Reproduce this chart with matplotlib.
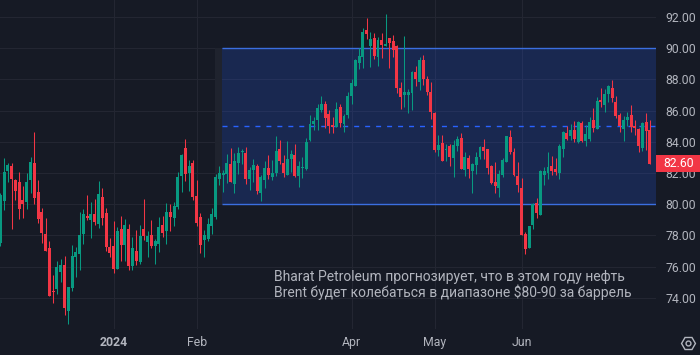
import matplotlib
matplotlib.use("Agg")
import matplotlib.pyplot as plt
import matplotlib.transforms as mtransforms
from matplotlib.patches import Rectangle
from matplotlib.lines import Line2D

plt.rcParams['font.family'] = ['Roboto', 'DejaVu Sans']
plt.rcParams['lines.scale_dashes'] = False

# Brent, daily candles, mid-Nov 2023 .. mid-Jul 2024
opens = [
    77.49, 80.22, 82.15, 82.45, 81.55, 81.42, 80.27, 80.14, 81.55, 82.64,
    80.78, 79.50, 78.09, 77.19, 74.42, 74.58, 75.67, 76.10, 73.17, 74.65,
    76.64, 76.83, 78.09, 79.24, 78.99, 79.37, 78.73, 80.46, 79.44, 77.26,
    77.32, 75.85, 78.41, 77.38, 78.41, 76.04, 77.00, 76.29, 78.41, 77.58,
    78.03, 77.32, 77.45, 78.67, 78.28, 79.50, 79.12, 79.82, 81.81, 83.60,
    82.00, 82.64, 80.53, 79.18, 77.70, 77.77, 78.60, 79.18, 81.62, 81.85,
    81.94, 82.58, 81.30, 82.64, 83.37, 83.28, 81.63, 82.19, 82.45, 80.74,
    81.57, 82.32, 81.74, 82.00, 83.54, 82.64, 81.87, 82.90, 83.15, 81.81,
    82.34, 82.26, 84.12, 85.14, 85.40, 86.04, 86.42, 85.78, 85.06, 84.97,
    86.23, 85.14, 85.72, 86.94, 87.58, 89.05, 89.44, 91.17, 90.14, 90.65,
    89.44, 90.53, 90.14, 90.65, 90.46, 90.14, 87.45, 87.00, 87.00, 87.13,
    88.47, 87.83, 89.24, 88.03, 87.19, 85.85, 83.47, 83.92, 83.50, 83.73,
    82.96, 83.73, 84.24, 82.19, 82.96, 82.13, 82.51, 83.03, 83.67, 83.54,
    82.45, 81.42, 81.04, 81.87, 82.71, 84.31, 83.35, 81.81, 81.04, 78.09,
    77.19, 78.67, 80.08, 79.31, 81.87, 82.00, 82.45, 82.26, 82.00, 83.54,
    84.56, 84.37, 84.76, 83.99, 85.20, 84.05, 84.18, 85.40, 84.82, 86.68,
    86.36, 87.06, 87.45, 86.55, 85.72, 84.82, 85.40, 85.72, 85.01, 84.82,
    83.60, 85.27, 84.76,
]
highs = [
    80.70, 82.98, 82.62, 82.62, 81.62, 82.06, 81.17, 82.02, 83.03, 84.63,
    81.55, 79.74, 79.12, 77.64, 75.46, 76.36, 76.47, 76.68, 74.69, 77.38,
    77.28, 79.50, 79.69, 80.59, 80.14, 80.33, 81.49, 81.04, 79.76, 77.83,
    78.92, 78.56, 79.24, 79.05, 78.73, 77.90, 78.35, 78.67, 80.33, 78.28,
    78.99, 77.77, 79.18, 79.24, 80.08, 80.01, 80.14, 82.06, 83.22, 84.18,
    82.83, 82.83, 81.55, 79.44, 78.35, 79.12, 79.76, 81.94, 82.45, 82.19,
    83.22, 83.60, 83.28, 83.67, 83.56, 83.67, 82.40, 82.90, 82.58, 81.87,
    82.77, 83.15, 82.83, 84.37, 84.12, 83.15, 84.05, 83.47, 83.86, 82.77,
    83.03, 84.24, 85.72, 85.59, 86.42, 86.94, 86.62, 86.04, 85.60, 86.55,
    86.42, 85.78, 87.19, 88.03, 89.31, 90.01, 91.29, 91.94, 91.04, 90.97,
    90.72, 90.97, 92.19, 90.65, 90.85, 90.21, 87.83, 90.78, 87.38, 88.54,
    88.86, 89.44, 89.56, 88.22, 87.83, 85.91, 84.44, 84.44, 83.86, 83.86,
    84.12, 84.37, 84.56, 83.35, 83.15, 82.64, 83.35, 83.73, 84.18, 83.54,
    82.51, 82.71, 82.19, 82.96, 84.37, 84.76, 83.60, 82.71, 81.68, 78.22,
    78.60, 80.08, 80.40, 82.19, 82.38, 83.35, 83.09, 82.96, 83.86, 84.69,
    85.01, 85.14, 85.33, 85.33, 85.33, 85.08, 85.59, 86.17, 86.87, 87.45,
    87.38, 87.64, 87.96, 86.94, 85.85, 85.65, 85.91, 86.36, 85.40, 84.88,
    85.27, 85.85, 85.40,
]
lows = [
    77.30, 79.65, 81.44, 78.41, 80.25, 79.03, 79.12, 79.71, 80.74, 80.03,
    78.81, 77.53, 77.02, 74.13, 73.65, 74.22, 75.03, 72.90, 72.34, 74.46,
    75.35, 75.76, 77.47, 78.99, 77.85, 78.67, 78.45, 78.67, 77.02, 76.64,
    75.61, 75.83, 76.38, 76.38, 75.78, 75.78, 76.10, 76.17, 77.70, 76.62,
    77.19, 76.17, 76.94, 77.90, 77.45, 78.28, 78.60, 79.69, 80.78, 81.49,
    80.85, 80.27, 78.60, 76.87, 76.62, 77.64, 78.09, 79.05, 81.23, 80.80,
    81.38, 81.42, 80.74, 81.96, 82.60, 81.30, 80.93, 81.44, 80.65, 80.22,
    81.06, 81.62, 81.57, 81.81, 82.58, 81.76, 81.87, 82.06, 81.74, 81.12,
    81.70, 82.19, 84.05, 84.76, 84.76, 85.91, 84.90, 84.58, 84.58, 84.97,
    84.97, 84.63, 85.53, 86.42, 87.58, 88.67, 88.73, 90.59, 88.79, 89.31,
    88.86, 89.37, 90.14, 88.73, 89.44, 87.13, 86.10, 86.23, 85.85, 86.04,
    87.58, 87.32, 87.64, 87.00, 85.46, 83.35, 83.09, 82.77, 82.77, 82.45,
    81.74, 83.41, 82.26, 81.81, 81.68, 80.72, 81.94, 82.90, 82.90, 81.94,
    81.30, 80.72, 80.46, 81.74, 82.71, 83.22, 81.81, 80.78, 78.03, 76.81,
    77.19, 78.41, 79.12, 79.31, 81.23, 81.60, 81.87, 81.87, 81.60, 83.03,
    84.12, 84.12, 83.99, 83.92, 83.99, 83.73, 84.05, 84.63, 84.82, 86.23,
    85.91, 86.55, 86.55, 85.53, 84.63, 84.05, 85.01, 84.63, 84.44, 83.35,
    83.41, 83.47, 82.58,
]
closes = [
    80.59, 82.08, 82.51, 81.62, 80.85, 79.71, 80.01, 81.42, 82.71, 80.42,
    79.07, 78.17, 77.02, 74.13, 74.37, 75.99, 76.10, 73.37, 74.69, 76.68,
    76.94, 78.03, 79.37, 79.12, 79.37, 78.86, 80.65, 79.12, 77.26, 76.87,
    75.87, 78.28, 77.38, 78.67, 76.04, 77.19, 76.36, 77.96, 77.96, 77.96,
    77.32, 77.64, 78.54, 78.15, 79.50, 79.18, 79.88, 81.74, 83.15, 81.94,
    82.45, 80.46, 78.79, 77.38, 78.03, 78.73, 79.37, 81.74, 82.00, 82.00,
    82.64, 81.42, 82.77, 83.28, 83.43, 81.63, 82.19, 82.51, 80.87, 81.76,
    82.32, 81.87, 82.00, 83.41, 82.77, 82.02, 82.90, 83.22, 81.81, 82.45,
    82.38, 83.99, 85.14, 85.33, 86.17, 86.42, 85.53, 85.01, 84.97, 86.10,
    85.22, 85.65, 86.94, 87.77, 89.24, 89.50, 91.04, 90.91, 90.59, 89.50,
    90.53, 90.21, 90.27, 90.33, 89.88, 87.45, 86.87, 87.19, 87.19, 88.47,
    88.03, 89.24, 88.03, 87.19, 85.91, 83.47, 83.79, 82.77, 83.54, 83.03,
    83.79, 84.18, 82.26, 83.03, 82.26, 82.58, 83.03, 83.67, 83.41, 82.32,
    81.36, 81.17, 81.94, 82.83, 84.37, 83.35, 81.87, 81.23, 78.03, 77.13,
    78.60, 80.01, 79.44, 82.13, 82.13, 82.38, 82.13, 82.06, 83.75, 84.63,
    84.18, 84.76, 84.18, 85.27, 84.05, 84.50, 85.27, 84.88, 86.62, 86.55,
    87.06, 87.58, 86.81, 85.65, 85.01, 85.40, 85.59, 84.95, 84.88, 83.73,
    85.20, 84.69, 82.60,
]

# bar index of the first session of each labelled month
tick_idx = [30, 52, 93, 115, 138]
tick_labels = ['2024', 'Feb', 'Apr', 'May', 'Jun']
price_ticks = [74, 76, 78, 80, 82, 84, 86, 88, 90, 92]

# drawn range box
range_low, range_high, range_mid = 80, 90, 85
range_start = 58.7

note = ("Bharat Petroleum прогнозирует, что в этом году нефть\n"
        "Brent будет колебаться в диапазоне $80-90 за баррель")

BG = '#161A25'
GRID = '#232632'
TXT = '#B2B5BE'
UP = '#089981'
DOWN = '#F23645'
BLUE = '#2962FF'

fig = plt.figure(figsize=(7, 3.55), dpi=100, facecolor=BG)
ax = fig.add_axes([0, 26 / 355, 656 / 700, 329 / 355])
ax.set_facecolor(BG)

n = len(closes)
xs = list(range(n))
cols = [UP if c >= o else DOWN for o, c in zip(opens, closes)]
bottoms = [min(o, c) for o, c in zip(opens, closes)]
heights = [max(abs(c - o), 0.06) for o, c in zip(opens, closes)]

# range rectangle (semi-transparent over the grid)
ax.add_patch(Rectangle((range_start - 1.8, range_low), 1.8, range_high - range_low,
                       facecolor='#1F232E', edgecolor='none', zorder=1))
ax.add_patch(Rectangle((range_start, range_low), 200, range_high - range_low,
                       facecolor=BLUE, alpha=0.2, edgecolor='none', zorder=1))
ax.hlines([range_low, range_high], range_start, 200, colors='#3B6FE0', lw=1.0, zorder=2)
ax.hlines(range_mid, range_start, 200, colors=BLUE, lw=1.0,
          linestyles=(0, (3.6, 4.3)), zorder=2)

ax.vlines(xs, lows, highs, colors=cols, lw=0.75, zorder=3)
ax.bar(xs, heights, bottom=bottoms, width=0.78, color=cols, linewidth=0, zorder=4)

ax.text(72.5, 74.82, note, color=TXT, fontsize=10, ha='left', va='center',
        linespacing=1.05, zorder=5)

ax.set_xlim(-0.08, 173.6)
ax.set_ylim(72.0, 93.09)
ax.set_xticks(tick_idx)
ax.set_xticklabels(tick_labels)
ax.get_xticklabels()[0].set_fontweight('bold')
ax.set_yticks(price_ticks)
ax.set_yticklabels(['%.2f' % p for p in price_ticks])
ax.yaxis.tick_right()
ax.tick_params(axis='y', length=0, pad=6.5, labelsize=8.8, labelcolor=TXT)
ax.tick_params(axis='x', length=0, pad=5, labelsize=8.8, labelcolor=TXT)
ax.grid(True, color=GRID, lw=0.75, zorder=0)
ax.set_axisbelow(True)
for s in ax.spines.values():
    s.set_visible(False)

# last price tag on the price scale
last = closes[-1]
trans = mtransforms.blended_transform_factory(ax.transAxes, ax.transData)
ax.add_patch(Rectangle((1.0, last - 0.545), 44 / 656, 1.09, transform=trans,
                       facecolor=DOWN, edgecolor='none', clip_on=False, zorder=6))
ax.text(1.0 + 23 / 656, last, '%.2f' % last, transform=trans, color='white',
        fontsize=8.8, ha='center', va='center', clip_on=False, zorder=7)

# settings icon at bottom right
fig.add_artist(Line2D([688 / 700], [1 - 343 / 355], marker='H', markersize=10,
                      markerfacecolor='none', markeredgecolor=TXT, markeredgewidth=1,
                      transform=fig.transFigure))
fig.add_artist(Line2D([688 / 700], [1 - 343 / 355], marker='o', markersize=3.5,
                      markerfacecolor='none', markeredgecolor=TXT, markeredgewidth=1,
                      transform=fig.transFigure))

fig.savefig('out.png', dpi=100, facecolor=BG)
